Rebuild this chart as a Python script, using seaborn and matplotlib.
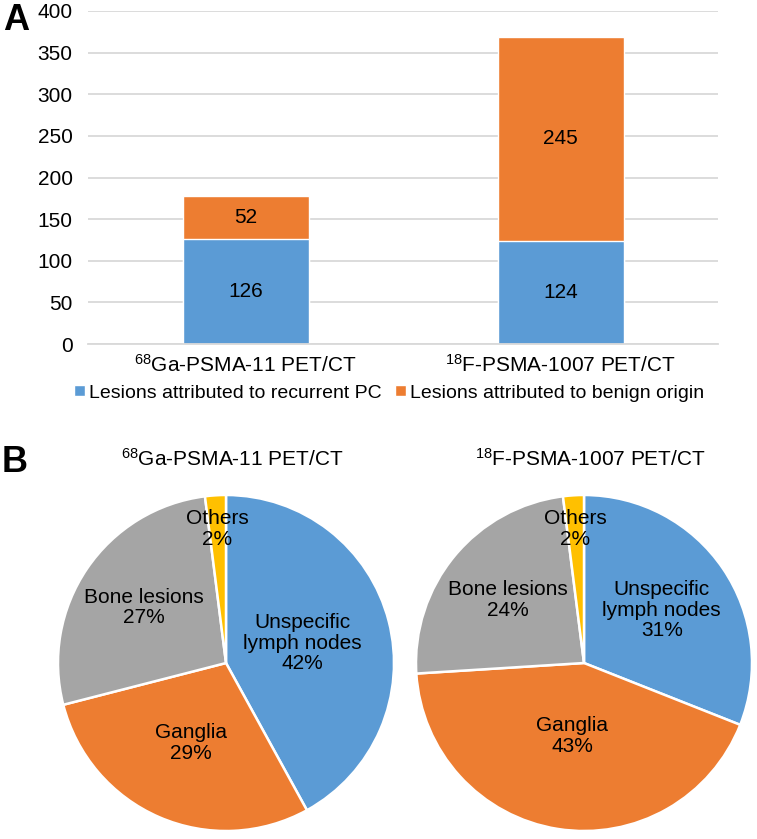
import numpy as np
import pandas as pd
import matplotlib
matplotlib.use("Agg")
import matplotlib.pyplot as plt
import seaborn as sns
from matplotlib.patches import Patch

# ---------------- data ----------------
categories = [r"$^{68}$Ga-PSMA-11 PET/CT", r"$^{18}$F-PSMA-1007 PET/CT"]
recurrent = [126, 124]
benign = [52, 245]
series_names = ["Lesions attributed to recurrent PC", "Lesions attributed to benign origin"]
y_ticks = [0, 50, 100, 150, 200, 250, 300, 350, 400]

pie_labels = ["Unspecific\nlymph nodes", "Ganglia", "Bone lesions", "Others"]
pie_ga = [42, 29, 27, 2]
pie_f = [31, 43, 24, 2]
pie_titles = [r"$^{68}$Ga-PSMA-11 PET/CT", r"$^{18}$F-PSMA-1007 PET/CT"]

# ---------------- style ----------------
sns.set_theme(style="white")
plt.rcParams["font.family"] = ["Liberation Sans", "DejaVu Sans"]
plt.rcParams["mathtext.fontset"] = "custom"
plt.rcParams["mathtext.rm"] = "Liberation Sans"
plt.rcParams["mathtext.it"] = "Liberation Sans"
plt.rcParams["mathtext.bf"] = "Liberation Sans:bold"
plt.rcParams["text.color"] = "black"
plt.rcParams["xtick.color"] = "black"
plt.rcParams["ytick.color"] = "black"
plt.rcParams["axes.labelcolor"] = "black"

BLUE = "#5B9BD5"
ORANGE = "#ED7D31"
GRAY = "#A5A5A5"
YELLOW = "#FFC000"
GRID = "#D9D9D9"
FS = 15
FS_LEG = 14

W, H = 757, 839
fig = plt.figure(figsize=(W / 100, H / 100), dpi=100)

def rect(x0, y0, x1, y1):
    return [x0 / W, 1 - y1 / H, (x1 - x0) / W, (y1 - y0) / H]

# ---------------- panel A: stacked bars ----------------
ax = fig.add_axes(rect(88, 11, 718, 344))
totals = [r + b for r, b in zip(recurrent, benign)]
df = pd.DataFrame({"cat": categories, "total": totals, "rec": recurrent})
sns.barplot(data=df, x="cat", y="total", color=ORANGE, saturation=1, width=0.4, ax=ax)
sns.barplot(data=df, x="cat", y="rec", color=BLUE, saturation=1, width=0.4, ax=ax)
ax.set_ylim(0, 400)
ax.set_xlim(-0.5, 1.5)
ax.set_yticks(y_ticks)
ax.set_xlabel("")
ax.set_ylabel("")
ax.yaxis.grid(True, color=GRID, linewidth=1.3)
ax.set_axisbelow(True)
for s in ["top", "right", "left"]:
    ax.spines[s].set_visible(False)
ax.spines["bottom"].set_color(GRID)
ax.spines["bottom"].set_linewidth(1.3)
ax.tick_params(axis="both", length=0, labelsize=FS, colors="black")
ax.tick_params(axis="x", pad=7)
ax.tick_params(axis="y", pad=11)

# value labels
for i, p in enumerate(ax.containers[1]):
    cx = p.get_x() + p.get_width() / 2
    ax.text(cx, recurrent[i] / 2, str(recurrent[i]), ha="center", va="center", fontsize=FS)
for i, p in enumerate(ax.containers[0]):
    cx = p.get_x() + p.get_width() / 2
    ax.text(cx, recurrent[i] + benign[i] / 2, str(benign[i]), ha="center", va="center", fontsize=FS)

handles = [Patch(facecolor=BLUE, label=series_names[0]), Patch(facecolor=ORANGE, label=series_names[1])]
if ax.get_legend() is not None:
    ax.get_legend().remove()
fig.legend(handles=handles, loc="center", bbox_to_anchor=(389 / W, 1 - 393 / H), ncol=2,
           frameon=False, fontsize=FS_LEG, handlelength=0.55, handleheight=0.55,
           handletextpad=0.2, columnspacing=0.7, borderaxespad=0, borderpad=0)

fig.text(3 / W, 1 - 21 / H, "A", fontsize=26, fontweight="bold", ha="left", va="center")
fig.text(2 / W, 1 - 462 / H, "B", fontsize=26, fontweight="bold", ha="left", va="center")

# ---------------- panel B: pies ----------------
label_r = [[0.47, 0.52, 0.59, 0.80], [0.56, 0.44, 0.59, 0.80]]
centers = [(226, 663), (584, 663)]
R = 168
half = 172
for k, vals in enumerate([pie_ga, pie_f]):
    cx, cy = centers[k]
    pax = fig.add_axes(rect(cx - half, cy - half, cx + half, cy + half))
    wedges, _ = pax.pie(vals, colors=[BLUE, ORANGE, GRAY, YELLOW], startangle=90,
                        counterclock=False, radius=1,
                        wedgeprops=dict(edgecolor="white", linewidth=1.8))
    lim = half / R
    pax.set_xlim(-lim, lim)
    pax.set_ylim(-lim, lim)
    pax.set_aspect("equal")
    pax.axis("off")
    for j, w in enumerate(wedges):
        ang = np.deg2rad((w.theta1 + w.theta2) / 2)
        r = label_r[k][j]
        pax.text(r * np.cos(ang), r * np.sin(ang), f"{pie_labels[j]}\n{vals[j]}%",
                 ha="center", va="center", fontsize=FS, linespacing=1.1)

fig.text(232 / W, 1 - 459 / H, pie_titles[0], ha="center", va="center", fontsize=FS)
fig.text(590 / W, 1 - 459 / H, pie_titles[1], ha="center", va="center", fontsize=FS)

fig.savefig("out.png", dpi=100, facecolor="white")
